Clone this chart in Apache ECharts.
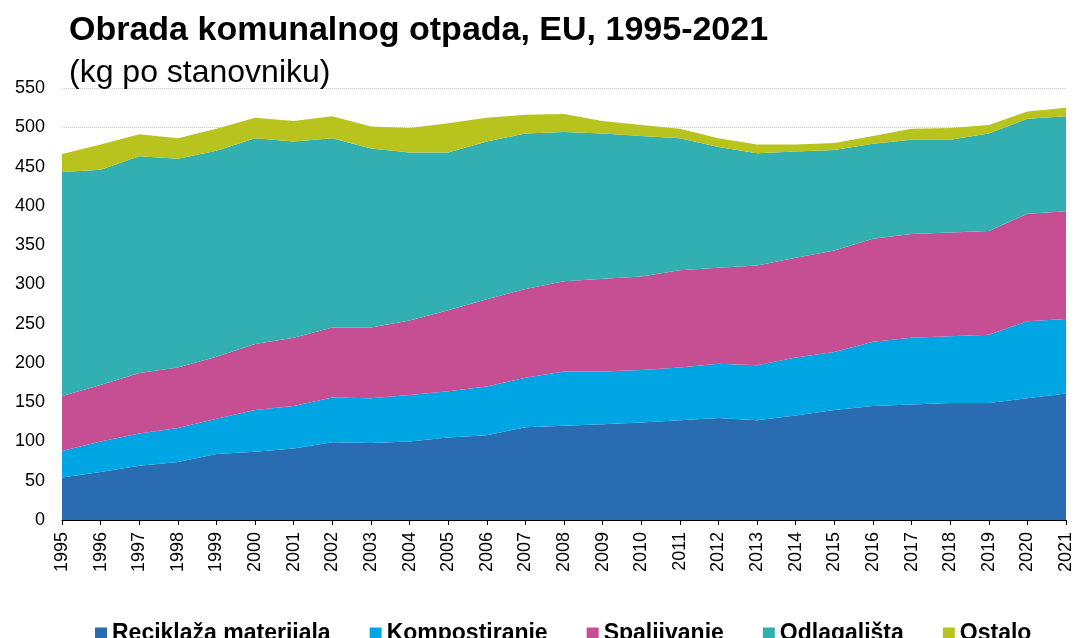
<!DOCTYPE html>
<html>
<head>
<meta charset="utf-8">
<title>Obrada komunalnog otpada, EU, 1995-2021</title>
<script src="https://cdn.jsdelivr.net/npm/echarts@6/dist/echarts.min.js"></script>
<style>
  html, body { margin: 0; padding: 0; background: #fff; }
  #chart { width: 1077px; height: 638px; }
</style>
</head>
<body>
<div id="chart"></div>
<script>
// godine
const years = ['1995', '1996', '1997', '1998', '1999', '2000', '2001', '2002', '2003', '2004',
  '2005', '2006', '2007', '2008', '2009', '2010', '2011', '2012', '2013', '2014',
  '2015', '2016', '2017', '2018', '2019', '2020', '2021']

// kg po stanovniku, procijenjeno sa slike
const recycling = [54, 61, 69, 74, 84, 87, 91, 99, 98, 100, 105, 108, 118, 120, 122, 124, 127, 130, 127, 133, 140, 145, 147, 149, 149, 155, 161]
const composting = [34, 39, 41, 43, 45, 53, 54, 57, 57, 59, 59, 62, 63, 69, 67, 67, 67, 69, 70, 74, 74, 82, 85, 85, 87, 98, 95]
const incineration = [70, 72, 77, 77, 79, 84, 87, 89, 90, 95, 103, 111, 113, 115, 118, 119, 124, 122, 127, 127, 129, 131, 132, 132, 132, 137, 137]
const landfill = [285, 274, 276, 266, 262, 262, 250, 241, 228, 214, 201, 201, 198, 190, 185, 179, 168, 154, 143, 135, 128, 121, 120, 118, 124, 121, 121]
const other = [23, 32, 28, 26, 28, 26, 26, 28, 28, 31, 37, 30, 24, 23, 16, 14, 12, 11, 11, 9, 9, 10, 14, 15, 11, 9, 11]

const seriesNames = ['Reciklaža materijala', 'Kompostiranje', 'Spaljivanje', 'Odlagališta', 'Ostalo']
const seriesColors = ['#2a6cb1', '#00a6e3', '#c64f93', '#32afb0', '#b8c31e']
const seriesData = [recycling, composting, incineration, landfill, other]

const yTicks = { min: 0, max: 550, interval: 50 }

const font = 'Liberation Sans, Arial, sans-serif'

const myChart = echarts.init(document.getElementById('chart'))

const option = {
  animation: false,
  backgroundColor: '#fff',
  color: seriesColors,
  textStyle: { fontFamily: font },
  title: [
    {
      text: 'Obrada komunalnog otpada, EU, 1995-2021',
      left: 69,
      top: 14,
      padding: 0,
      textStyle: { fontFamily: font, fontSize: 34, fontWeight: 'bold', color: '#000' }
    },
    {
      text: '(kg po stanovniku)',
      left: 69,
      top: 57,
      padding: 0,
      textStyle: { fontFamily: font, fontSize: 32, fontWeight: 'normal', color: '#000' }
    }
  ],
  legend: {
    left: 90,
    top: 617,
    itemWidth: 12,
    itemHeight: 12,
    itemGap: 39,
    icon: 'rect',
    textStyle: { fontFamily: font, fontSize: 23, fontWeight: 'bold', color: '#000' },
    data: seriesNames
  },
  grid: {
    left: 62,
    right: 11,
    top: 88,
    bottom: 118
  },
  xAxis: {
    type: 'category',
    data: years,
    boundaryGap: false,
    axisLine: { show: true, lineStyle: { color: '#000', width: 1 } },
    axisTick: { show: true, inside: false, length: 5, interval: 0, lineStyle: { color: '#000' } },
    axisLabel: {
      interval: 0,
      rotate: 90,
      margin: 12,
      fontFamily: font,
      fontSize: 18,
      color: '#000'
    }
  },
  yAxis: {
    type: 'value',
    min: yTicks.min,
    max: yTicks.max,
    interval: yTicks.interval,
    axisLine: { show: false },
    axisTick: { show: false },
    axisLabel: { fontFamily: font, fontSize: 18, color: '#000', margin: 17 },
    splitLine: { show: true, lineStyle: { color: '#c8c8c8', type: 'dotted', width: 1 } }
  },
  series: seriesNames.map(function (name, i) {
    return {
      name: name,
      type: 'line',
      stack: 'otpad',
      data: seriesData[i],
      showSymbol: false,
      symbol: 'none',
      lineStyle: { width: 0 },
      areaStyle: { color: seriesColors[i], opacity: 1 },
      itemStyle: { color: seriesColors[i] }
    }
  })
}

myChart.setOption(option)
window.addEventListener('resize', function () {
  myChart.resize()
})
</script>
</body>
</html>
